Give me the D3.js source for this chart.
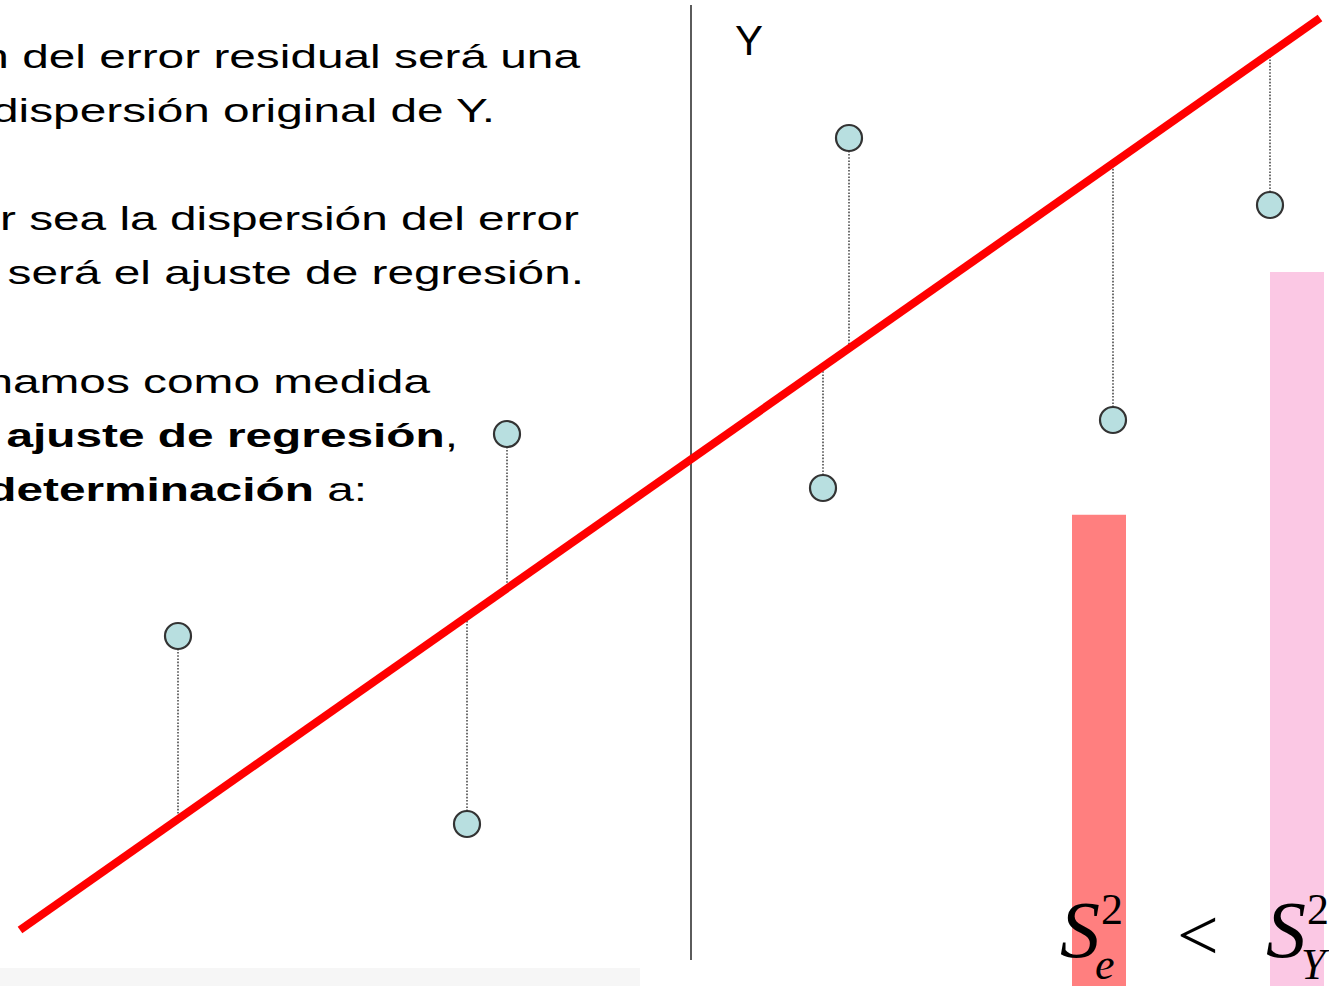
<!DOCTYPE html>
<html>
<head>
<meta charset="utf-8">
<script src="https://d3js.org/d3.v7.min.js"></script>
<style>
  body { margin: 0; background: #fff; overflow: hidden; }
  svg { display: block; }
</style>
</head>
<body>
<svg width="1329" height="986"></svg>
<script>
  // observations (data units)
  var pointsX = [1.58, 4.47, 4.87, 8.03, 8.29, 10.93, 12.50];
  var pointsY = [2.94, 1.06, 4.96, 4.42, 7.92, 5.10, 7.25];

  // fitted regression line
  var fitIntercept = 0;
  var fitSlope = 0.7015;
  var fitRange = [0, 13];

  // Y axis position
  var axisX = 6.71;

  // variances: residual vs original
  var varNames = ["e", "Y"];
  var varValues = [0.66, 1.0];
  var varColors = ["#ff7f7f", "#fbc8e4"];

  // left text, each line is a list of [text, bold]
  var textLines = [
    [["La dispersión del error residual será una", false]],
    [["fracción de la dispersión original de Y.", false]],
    null,
    [["Cuanto menor sea la dispersión del error", false]],
    [["residual mejor será el ajuste de regresión.", false]],
    null,
    [["Eso hace que definamos como medida", false]],
    [["de bondad de un ", false], ["ajuste de regresión", true], [",", false]],
    [["o coeficiente de ", false], ["determinación", true], [" a:", false]]
  ];
  var textRight = [580, 495, 579, 584, 430, 458, 367];

  var svg = d3.select("svg");

  var x = d3.scaleLinear().domain([0, 13]).range([20, 1320]);
  var y = d3.scaleLinear().domain([0, 9.12]).range([930, 18]);
  function fit(v) { return fitIntercept + fitSlope * v; }

  // text block (the slide font is wider than Arial, so stretch it)
  var tg = svg.append("g")
    .attr("font-family", "'Liberation Sans', Arial, sans-serif")
    .attr("font-size", 33)
    .attr("fill", "#000");
  var probe = tg.append("text").text("del error residual será una");
  var sx = 558 / probe.node().getComputedTextLength();
  probe.remove();

  var k = 0;
  textLines.forEach(function(line, i) {
    if (!line) return;
    var t = tg.append("text")
      .attr("transform", "translate(" + textRight[k] + "," + (68 + i * 54.1) + ") scale(" + sx + ",1)")
      .attr("text-anchor", "end");
    line.forEach(function(seg) {
      t.append("tspan")
        .attr("font-weight", seg[1] ? "bold" : "normal")
        .text(seg[0]);
    });
    k++;
  });

  // faint cut-off line at the very bottom
  svg.append("rect")
    .attr("x", 0).attr("y", 968)
    .attr("width", 640).attr("height", 18)
    .attr("fill", "#f6f6f6");

  // variance bars
  var band = d3.scaleOrdinal().domain(varNames).range([1072, 1270]);
  var h = d3.scaleLinear().domain([0, 1]).range([986, 272]);
  svg.selectAll("rect.var")
    .data(varValues)
    .enter().append("rect")
    .attr("class", "var")
    .attr("x", function(d, i) { return band(varNames[i]); })
    .attr("y", function(d) { return h(d); })
    .attr("width", 54)
    .attr("height", function(d) { return h(0) - h(d); })
    .attr("fill", function(d, i) { return varColors[i]; });

  // vertical axis
  svg.append("line")
    .attr("x1", x(axisX)).attr("x2", x(axisX))
    .attr("y1", 5).attr("y2", 960)
    .attr("stroke", "#333")
    .attr("stroke-width", 1.6);

  svg.append("text")
    .attr("x", 735).attr("y", 55)
    .attr("font-family", "'Liberation Sans', Arial, sans-serif")
    .attr("font-size", 42)
    .text("Y");

  // residual segments
  svg.selectAll("line.res")
    .data(pointsX)
    .enter().append("line")
    .attr("class", "res")
    .attr("x1", function(d) { return x(d); })
    .attr("x2", function(d) { return x(d); })
    .attr("y1", function(d, i) { return y(pointsY[i]); })
    .attr("y2", function(d) { return y(fit(d)); })
    .attr("stroke", "#222")
    .attr("stroke-width", 1.3)
    .attr("stroke-dasharray", "1.6,1.6");

  // regression line
  svg.append("line")
    .attr("x1", x(fitRange[0])).attr("y1", y(fit(fitRange[0])))
    .attr("x2", x(fitRange[1])).attr("y2", y(fit(fitRange[1])))
    .attr("stroke", "#ff0000")
    .attr("stroke-width", 8);

  // points
  svg.selectAll("circle")
    .data(pointsX)
    .enter().append("circle")
    .attr("cx", function(d) { return x(d); })
    .attr("cy", function(d, i) { return y(pointsY[i]); })
    .attr("r", 13)
    .attr("fill", "#b8dfe0")
    .attr("stroke", "#333")
    .attr("stroke-width", 2.2);

  // formula S_e^2 < S_Y^2
  var formulaX = [1060, 1266];
  var fg = svg.append("g")
    .attr("font-family", "'Liberation Serif', 'Times New Roman', serif")
    .attr("fill", "#000");
  varNames.forEach(function(n, i) {
    var x0 = formulaX[i];
    fg.append("text").attr("x", x0).attr("y", 957)
      .attr("font-size", 80).attr("font-style", "italic").text("S");
    fg.append("text").attr("x", x0 + 41).attr("y", 924)
      .attr("font-size", 44).text("2");
    fg.append("text").attr("x", x0 + 35).attr("y", 979)
      .attr("font-size", 44).attr("font-style", "italic").text(n);
  });
  fg.append("text").attr("x", 1177).attr("y", 960)
    .attr("font-size", 74).text("<");
</script>
</body>
</html>
